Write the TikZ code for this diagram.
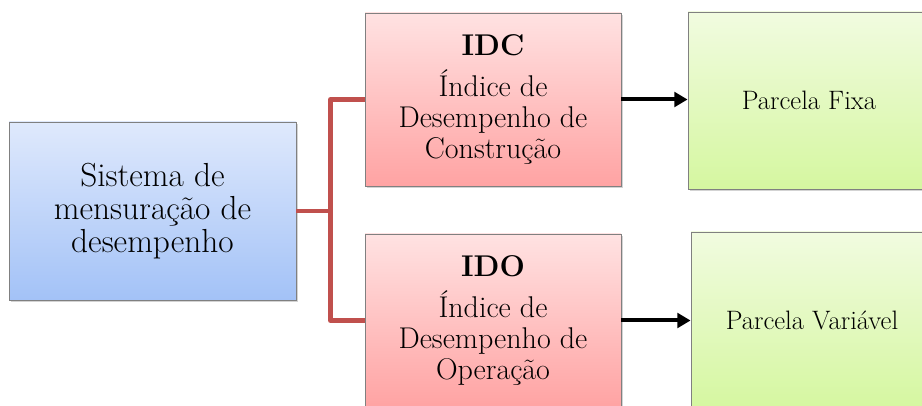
\documentclass[tikz,border=0pt]{standalone}
\usetikzlibrary{arrows.meta,shadows}

\definecolor{blueTop}{RGB}{223,233,252}
\definecolor{blueBot}{RGB}{163,194,247}
\definecolor{redTop}{RGB}{255,226,226}
\definecolor{redBot}{RGB}{255,163,163}
\definecolor{greenTop}{RGB}{241,251,224}
\definecolor{greenBot}{RGB}{213,247,160}
\definecolor{linkRed}{RGB}{192,80,77}

\tikzset{
  box/.style={draw={rgb, 255:red, 128; green, 128; blue, 128}, line width=0.6pt,
    align=center, inner sep=0pt,
    drop shadow={opacity=0.35, shadow xshift=1.5pt, shadow yshift=-1.5pt}},
  sysbox/.style={box, top color=blueTop, bottom color=blueBot,
    minimum width=215.25pt, minimum height=133.5pt, font=\fontsize{25}{25}\selectfont},
  idxbox/.style={box, top color=redTop, bottom color=redBot,
    minimum width=192pt, minimum height=129.75pt, font=\fontsize{22.5}{23.2}\selectfont},
  partbox/.style={box, top color=greenTop, bottom color=greenBot,
    minimum width=181.5pt, minimum height=132.75pt, font=\fontsize{20}{21}\selectfont},
  link/.style={draw=linkRed, line width=3.6pt, line join=round},
  flow/.style={line width=3pt, -{Triangle[length=10pt,width=11pt]}}
}

\begin{document}
\begin{tikzpicture}[x=0.75pt,y=0.75pt,yscale=-1,xscale=1]
\useasboundingbox (0,0) rectangle (922,406);

% Sistema
\node [sysbox] (sys) at (152.5,211) {Sistema de\\mensuração de\\desempenho};

% Indices
\node [idxbox] (idc) at (493,99.5) {\textbf{IDC}\\[8pt]Índice de\\Desempenho de\\Construção};
\node [idxbox] (ido) at (493,320.5) {\textbf{IDO}\\[8pt]Índice de\\Desempenho de\\Operação};

% Parcelas
\node [partbox] (fixa) at (809,100.5) {Parcela Fixa};
\node [partbox] (var) at (812,320.5) {Parcela Variável};

%Connector Lines
\draw [link] (sys.east) -- ++(34,0) coordinate (split) |- (idc.west);
\draw [link] (split) |- (ido.west);

%Straight Lines
\draw [flow] (idc.east) -- (idc.east -| fixa.west);
\draw [flow] (ido.east) -- (ido.east -| var.west);

\end{tikzpicture}
\end{document}
